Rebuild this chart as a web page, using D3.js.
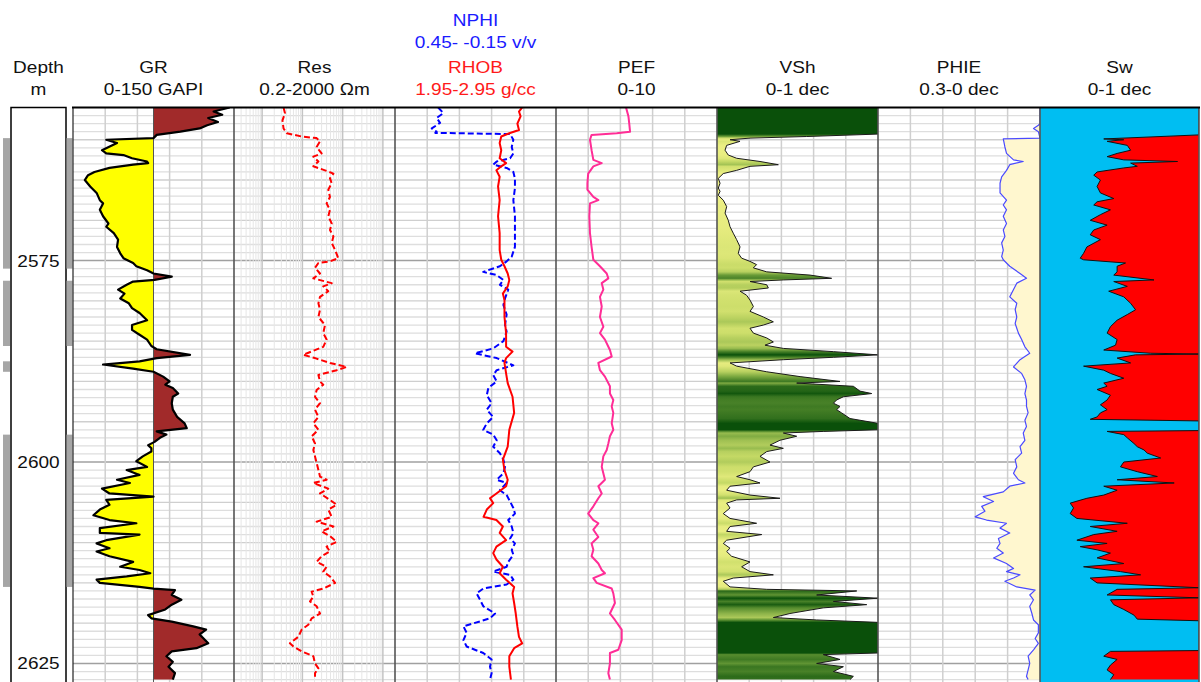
<!DOCTYPE html>
<html>
<head>
<meta charset="utf-8">
<script src="https://cdn.jsdelivr.net/npm/d3@7"></script>
<style>
  body { margin: 0; background: #fff; }
  text { font-family: "Liberation Sans", Arial, sans-serif; }
</style>
</head>
<body>
<svg id="chart" width="1201" height="682"></svg>
<script>
// well log panel: GR, Res, NPHI/RHOB, PEF, VSh, PHIE, Sw

// curve samples as [depth m, value]
const grLog = [[2556.0,146],[2556.5,131],[2556.9,139],[2557.3,126],[2557.8,135],[2558.2,125],[2558.6,118],[2559.0,100],[2559.4,78],[2559.8,75],[2560.0,31],[2560.4,41],[2561.3,27],[2561.7,31],[2561.9,47],[2562.3,55],[2562.7,69],[2562.9,70],[2563.1,56],[2563.5,34],[2564.0,20],[2564.4,14],[2565.0,11],[2565.8,16],[2566.6,22],[2567.5,25],[2567.9,28],[2568.7,25],[2569.5,28],[2570.4,33],[2570.8,31],[2571.6,38],[2572.4,42],[2573.3,41],[2574.1,44],[2574.7,47],[2575.3,56],[2575.7,59],[2576.2,69],[2576.6,75],[2577.0,92],[2577.4,76],[2577.6,56],[2578.0,50],[2578.6,42],[2579.1,48],[2579.7,44],[2580.3,52],[2580.9,55],[2581.5,62],[2582.4,69],[2583.0,55],[2583.6,55],[2584.2,62],[2584.8,69],[2585.6,73],[2586.0,78],[2586.7,109],[2587.1,78],[2587.5,62],[2587.9,28],[2588.4,56],[2588.8,75],[2589.4,84],[2590.0,90],[2590.4,86],[2590.8,93],[2591.5,98],[2591.9,93],[2592.7,92],[2593.5,93],[2594.4,97],[2595.2,104],[2595.8,106],[2596.2,78],[2596.6,87],[2597.0,81],[2597.5,76],[2597.9,70],[2598.3,73],[2598.7,73],[2599.3,65],[2599.9,59],[2600.6,69],[2601.0,50],[2601.6,62],[2602.2,41],[2602.6,53],[2603.3,27],[2603.9,34],[2604.3,75],[2604.7,31],[2605.3,34],[2605.9,25],[2606.6,19],[2607.2,34],[2607.6,59],[2608.2,25],[2608.8,25],[2609.0,62],[2609.7,31],[2610.1,22],[2610.7,34],[2611.1,22],[2611.7,34],[2612.4,56],[2613.0,44],[2613.4,62],[2613.8,72],[2614.2,50],[2614.6,22],[2615.0,25],[2615.5,62],[2615.7,75],[2615.9,95],[2616.5,92],[2617.1,101],[2617.7,92],[2618.3,86],[2619.0,70],[2619.4,73],[2619.8,92],[2620.4,112],[2620.8,124],[2621.4,118],[2622.5,126],[2623.1,115],[2623.5,92],[2624.1,87],[2624.8,93],[2625.4,89],[2626.2,95],[2627.0,93]];

const resLog = [[2556.0,3.4],[2556.7,3.7],[2557.6,3.2],[2558.6,3.4],[2559.2,4.1],[2559.6,9.6],[2559.8,22.6],[2560.2,27.4],[2560.9,22.6],[2561.7,30],[2562.1,18.7],[2562.7,25],[2563.3,18.7],[2563.8,36.5],[2564.2,59],[2564.8,48.5],[2565.4,53.5],[2566.2,44],[2567.1,48.5],[2567.9,40],[2568.7,48.5],[2569.5,44],[2570.4,53.5],[2571.2,48.5],[2572.0,59],[2572.8,53.5],[2573.7,65],[2574.7,78],[2575.1,48.5],[2575.3,25],[2575.9,20.6],[2576.6,27.4],[2577.2,18.7],[2577.8,53.5],[2578.2,33],[2578.8,44],[2579.5,27.4],[2580.3,25],[2581.1,27.4],[2582.0,25],[2583.0,36.5],[2584.0,33],[2584.8,40],[2585.7,33],[2586.7,10.5],[2587.1,20.6],[2587.7,48.5],[2588.2,126],[2588.6,71],[2589.2,25],[2590.0,27.4],[2590.4,33],[2591.05,22.6],[2591.9,20.6],[2592.7,27.4],[2593.5,20.6],[2594.4,25],[2595.2,18.7],[2596.0,25],[2596.8,17],[2597.7,20.6],[2598.5,18.7],[2599.3,20.6],[2600.1,22.6],[2601.0,25],[2601.8,27.4],[2602.2,40],[2602.6,18.7],[2603.3,44],[2603.9,27.4],[2604.7,48.5],[2605.3,71],[2605.9,44],[2606.8,53.5],[2607.4,22.6],[2608.0,59],[2608.6,30],[2609.2,48.5],[2609.9,71],[2610.5,40],[2611.1,48.5],[2611.7,30],[2612.4,22.6],[2613.0,40],[2613.6,33],[2614.2,48.5],[2615.0,65],[2615.7,33],[2616.1,17],[2616.7,18.7],[2617.3,15.5],[2617.9,22.6],[2618.8,27.4],[2619.4,17],[2620.2,14],[2620.8,9.6],[2621.7,7.9],[2622.5,4.9],[2622.9,6],[2623.5,9.6],[2624.1,18.7],[2625.0,20.6],[2625.6,25],[2626.2,20.6],[2627.0,20.6]];

const nphiLog = [[2556.0,0.289],[2556.7,0.27],[2557.3,0.295],[2557.9,0.282],[2558.6,0.313],[2559.0,0.295],[2559.15,0.30],[2559.3,0.021],[2560.0,0.009],[2560.9,0.015],[2561.7,0.009],[2562.3,0.021],[2562.7,0.071],[2563.1,0.084],[2563.5,0.034],[2564.0,0.009],[2564.8,0.003],[2566.0,0.003],[2567.5,0.009],[2569.5,0.003],[2571.6,0.003],[2573.3,0.003],[2574.5,0.015],[2575.1,0.034],[2575.7,0.059],[2576.4,0.121],[2576.8,0.071],[2577.4,0.046],[2578.0,0.059],[2578.6,0.028],[2579.7,0.04],[2580.5,0.046],[2581.7,0.034],[2583.0,0.04],[2583.8,0.034],[2585.0,0.046],[2585.9,0.084],[2586.5,0.152],[2587.1,0.071],[2588.0,0.009],[2588.6,0.071],[2589.2,0.084],[2590.0,0.071],[2590.8,0.102],[2591.7,0.108],[2592.7,0.09],[2593.5,0.108],[2594.4,0.084],[2595.2,0.108],[2596.0,0.121],[2596.6,0.084],[2597.3,0.071],[2598.1,0.084],[2598.9,0.059],[2599.7,0.046],[2600.6,0.04],[2601.4,0.046],[2602.2,0.071],[2602.6,0.034],[2603.5,0.059],[2604.1,0.034],[2604.9,0.021],[2605.7,0.009],[2606.4,0.003],[2607.2,0.028],[2608.0,0.015],[2608.8,0.009],[2609.5,0.021],[2610.1,0.003],[2610.9,0.015],[2611.5,0.009],[2612.4,0.028],[2613.0,0.034],[2613.6,0.084],[2614.0,0.021],[2614.6,0.009],[2615.2,0.034],[2615.7,0.121],[2616.3,0.146],[2617.1,0.133],[2617.9,0.121],[2618.8,0.077],[2619.4,0.096],[2620.4,0.195],[2621.2,0.183],[2622.1,0.195],[2622.9,0.183],[2623.7,0.121],[2624.5,0.09],[2625.4,0.096],[2626.2,0.09],[2627.0,0.096]];

const rhobLog = [[2556.0,2.74],[2556.5,2.72],[2557.1,2.73],[2558.0,2.71],[2558.8,2.72],[2559.2,2.66],[2559.6,2.61],[2560.4,2.60],[2561.3,2.61],[2562.3,2.60],[2562.9,2.64],[2563.3,2.61],[2563.8,2.58],[2564.6,2.60],[2565.8,2.59],[2567.5,2.60],[2569.5,2.59],[2571.6,2.60],[2573.7,2.60],[2574.9,2.61],[2575.7,2.63],[2576.6,2.65],[2577.4,2.66],[2578.2,2.65],[2579.1,2.62],[2579.9,2.63],[2582.0,2.63],[2584.0,2.64],[2585.7,2.64],[2586.3,2.68],[2587.1,2.64],[2587.7,2.63],[2589.0,2.64],[2590.2,2.65],[2591.9,2.68],[2593.9,2.69],[2596.0,2.66],[2598.1,2.65],[2599.7,2.62],[2601.0,2.63],[2602.2,2.65],[2603.0,2.64],[2603.9,2.58],[2604.5,2.54],[2605.1,2.56],[2605.9,2.52],[2606.8,2.50],[2607.2,2.58],[2608.0,2.62],[2608.8,2.60],[2609.7,2.64],[2610.5,2.58],[2611.3,2.56],[2612.1,2.58],[2613.0,2.62],[2613.8,2.60],[2614.6,2.64],[2615.5,2.69],[2616.3,2.68],[2617.5,2.69],[2618.8,2.70],[2620.4,2.71],[2621.7,2.72],[2622.5,2.74],[2623.1,2.69],[2624.1,2.66],[2625.4,2.66],[2627.0,2.67]];

const pefLog = [[2556.0,4.35],[2557.1,4.5],[2558.0,4.55],[2559.0,4.6],[2559.2,3.77],[2559.4,2.21],[2560.0,2.11],[2561.3,2.21],[2562.5,2.32],[2562.9,2.84],[2563.3,2.32],[2564.2,2.0],[2565.4,1.95],[2566.2,1.95],[2567.1,2.32],[2567.5,2.63],[2567.9,2.11],[2569.5,2.07],[2571.6,2.11],[2573.3,2.21],[2574.9,2.32],[2575.7,2.73],[2576.6,3.15],[2577.2,3.25],[2577.8,2.84],[2578.6,2.94],[2579.5,2.73],[2580.7,2.84],[2582.0,2.73],[2583.2,2.94],[2584.0,2.73],[2584.8,3.04],[2586.1,3.35],[2586.9,3.46],[2587.7,2.63],[2588.6,2.73],[2589.4,3.04],[2590.6,3.35],[2591.5,3.35],[2592.3,3.56],[2593.1,3.46],[2593.9,3.56],[2595.2,3.46],[2596.0,3.56],[2596.8,3.35],[2597.7,3.25],[2598.5,3.15],[2599.3,2.94],[2600.6,2.84],[2601.4,2.94],[2602.2,3.04],[2603.0,2.63],[2603.9,2.84],[2604.5,2.63],[2605.5,2.32],[2606.4,2.0],[2607.2,2.32],[2607.6,2.63],[2608.4,2.32],[2609.3,2.63],[2610.1,2.21],[2610.9,2.32],[2611.7,2.21],[2612.6,2.63],[2613.4,2.84],[2613.8,3.04],[2614.4,2.32],[2615.0,2.53],[2615.7,3.46],[2616.3,3.56],[2617.5,3.66],[2618.8,3.35],[2619.6,3.66],[2620.8,4.08],[2622.1,4.08],[2623.3,3.87],[2623.7,3.35],[2625.0,3.35],[2626.2,3.25],[2627.0,3.35]];

const vshLog = [[2556.0,1],[2559.3,1],[2559.6,0.557],[2559.8,0.205],[2560.0,0.081],[2560.2,0.143],[2560.7,0.06],[2561.3,0.05],[2561.9,0.07],[2562.3,0.122],[2562.7,0.267],[2563.1,0.381],[2563.3,0.205],[2563.8,0.122],[2564.2,0.039],[2564.8,0.008],[2565.4,0.019],[2566.0,0.008],[2566.4,0.019],[2566.9,0.008],[2567.5,0.039],[2568.3,0.06],[2569.1,0.05],[2570.0,0.07],[2570.8,0.081],[2571.6,0.101],[2572.4,0.122],[2573.3,0.143],[2574.1,0.132],[2574.7,0.153],[2575.1,0.205],[2575.5,0.246],[2575.9,0.226],[2576.4,0.309],[2576.8,0.578],[2577.2,0.712],[2577.4,0.412],[2577.6,0.205],[2578.0,0.309],[2578.4,0.319],[2578.8,0.143],[2579.3,0.184],[2579.9,0.205],[2580.7,0.226],[2581.3,0.205],[2582.0,0.288],[2582.6,0.35],[2583.0,0.288],[2583.4,0.205],[2584.0,0.226],[2584.6,0.309],[2585.1,0.35],[2585.5,0.298],[2585.9,0.412],[2586.3,0.723],[2586.7,1.0],[2587.0,0.723],[2587.3,0.412],[2587.7,0.081],[2588.1,0.122],[2588.8,0.309],[2589.4,0.516],[2590.0,0.764],[2590.2,0.495],[2590.6,0.847],[2591.2,0.888],[2591.5,0.961],[2591.9,0.785],[2592.3,0.743],[2592.7,0.723],[2593.1,0.764],[2593.5,0.743],[2593.9,0.774],[2594.6,0.826],[2595.2,1.0],[2596.0,1.0],[2596.2,0.66],[2596.4,0.412],[2596.8,0.495],[2597.3,0.391],[2597.9,0.329],[2598.3,0.412],[2598.7,0.309],[2599.3,0.267],[2600.0,0.329],[2600.6,0.226],[2601.2,0.205],[2601.8,0.122],[2602.2,0.205],[2602.6,0.267],[2603.0,0.081],[2603.5,0.06],[2604.1,0.205],[2604.5,0.391],[2604.7,0.122],[2605.1,0.06],[2605.7,0.081],[2606.4,0.039],[2607.0,0.081],[2607.6,0.246],[2608.0,0.081],[2608.6,0.06],[2609.0,0.278],[2609.7,0.06],[2610.1,0.039],[2610.7,0.081],[2611.1,0.06],[2611.7,0.091],[2612.4,0.205],[2613.0,0.153],[2613.6,0.205],[2614.0,0.35],[2614.4,0.101],[2614.8,0.039],[2615.5,0.081],[2615.8,0.309],[2616.0,0.868],[2616.5,0.619],[2616.9,1.0],[2617.3,0.723],[2617.7,0.93],[2618.1,0.66],[2618.8,0.453],[2619.3,0.35],[2619.6,0.619],[2619.9,1.0],[2623.7,1.0],[2623.9,0.66],[2624.5,0.764],[2625.0,0.619],[2625.4,0.785],[2626.0,0.723],[2626.6,0.847],[2627.0,0.826]];

const phieLog = [[2556.0,0],[2558.0,0],[2558.2,0.003],[2558.6,0.012],[2559.0,0.003],[2559.8,0],[2559.9,0.068],[2560.9,0.065],[2561.7,0.062],[2562.5,0.049],[2562.7,0.031],[2563.1,0.056],[2563.8,0.062],[2564.6,0.071],[2565.4,0.074],[2566.6,0.074],[2567.5,0.062],[2568.1,0.068],[2568.7,0.062],[2569.5,0.068],[2570.4,0.062],[2571.2,0.068],[2572.0,0.065],[2572.8,0.071],[2573.7,0.068],[2574.5,0.071],[2574.9,0.068],[2575.7,0.056],[2576.6,0.037],[2577.2,0.025],[2577.8,0.043],[2578.6,0.049],[2579.5,0.056],[2580.3,0.043],[2581.1,0.046],[2582.0,0.043],[2582.8,0.046],[2584.0,0.04],[2584.8,0.034],[2585.7,0.028],[2586.5,0.019],[2587.3,0.037],[2588.2,0.049],[2589.0,0.034],[2589.8,0.028],[2590.6,0.025],[2591.5,0.028],[2592.3,0.025],[2593.1,0.025],[2593.9,0.022],[2594.8,0.028],[2595.6,0.025],[2596.4,0.031],[2597.3,0.028],[2598.1,0.037],[2598.9,0.034],[2599.7,0.046],[2600.6,0.043],[2601.4,0.049],[2602.2,0.04],[2602.6,0.028],[2603.0,0.056],[2603.7,0.068],[2604.3,0.105],[2604.9,0.086],[2605.5,0.108],[2606.1,0.102],[2606.8,0.12],[2607.2,0.099],[2607.6,0.062],[2608.2,0.074],[2608.8,0.056],[2609.5,0.077],[2610.1,0.074],[2610.7,0.08],[2611.3,0.068],[2611.9,0.086],[2612.6,0.062],[2613.2,0.049],[2613.6,0.062],[2614.0,0.037],[2614.4,0.049],[2614.8,0.065],[2615.5,0.043],[2615.9,0.009],[2616.5,0.019],[2617.1,0.012],[2617.9,0.019],[2618.8,0.015],[2619.6,0.012],[2620.2,0.003],[2621.2,0.003],[2621.9,0.009],[2622.5,0.003],[2623.3,0.012],[2624.1,0.022],[2625.0,0.019],[2625.8,0.022],[2626.6,0.025],[2627.0,0.022]];

const swLog = [[2556.0,1],[2559.4,1],[2559.9,0.401],[2560.0,0.527],[2560.2,0.422],[2560.7,0.549],[2561.3,0.57],[2561.7,0.485],[2562.1,0.422],[2562.5,0.527],[2562.7,0.865],[2562.9,0.57],[2563.3,0.612],[2563.5,0.527],[2564.0,0.359],[2564.4,0.338],[2565.0,0.38],[2565.8,0.359],[2566.6,0.38],[2567.3,0.464],[2567.7,0.359],[2568.1,0.338],[2568.7,0.443],[2569.3,0.38],[2570.0,0.316],[2570.6,0.422],[2571.2,0.338],[2571.8,0.316],[2572.4,0.38],[2573.3,0.295],[2574.1,0.274],[2574.7,0.253],[2574.9,0.274],[2575.3,0.538],[2575.7,0.485],[2576.4,0.485],[2576.8,0.464],[2577.4,0.717],[2577.6,0.464],[2578.2,0.549],[2578.8,0.432],[2579.5,0.527],[2580.3,0.57],[2581.1,0.601],[2581.7,0.549],[2582.4,0.485],[2583.2,0.443],[2584.0,0.422],[2584.8,0.485],[2585.5,0.475],[2586.1,0.401],[2586.5,0.696],[2586.6,1.0],[2586.7,0.6],[2587.1,0.485],[2587.7,0.57],[2588.1,0.274],[2588.6,0.401],[2589.0,0.443],[2589.6,0.527],[2590.2,0.401],[2590.6,0.422],[2591.0,0.359],[2591.7,0.443],[2592.3,0.422],[2592.9,0.38],[2593.5,0.422],[2593.9,0.38],[2594.4,0.359],[2594.7,0.316],[2594.9,1.0],[2596.1,1.0],[2596.2,0.422],[2596.6,0.527],[2597.0,0.549],[2597.7,0.591],[2598.1,0.612],[2598.5,0.654],[2598.9,0.675],[2599.5,0.759],[2600.0,0.527],[2600.6,0.506],[2601.2,0.612],[2601.8,0.738],[2602.2,0.485],[2602.6,0.844],[2603.0,0.401],[2603.5,0.485],[2604.1,0.401],[2604.5,0.295],[2605.1,0.19],[2605.7,0.211],[2606.4,0.19],[2607.0,0.232],[2607.6,0.549],[2608.0,0.316],[2608.6,0.485],[2609.0,0.338],[2609.7,0.232],[2610.1,0.422],[2610.5,0.253],[2610.9,0.359],[2611.3,0.443],[2611.9,0.359],[2612.6,0.527],[2613.0,0.274],[2613.6,0.506],[2614.0,0.633],[2614.4,0.316],[2615.0,0.359],[2615.6,1.0],[2615.8,0.485],[2616.5,0.422],[2616.85,1.0],[2617.1,0.443],[2617.7,0.464],[2618.3,0.527],[2619.0,0.591],[2619.5,0.612],[2619.7,1.0],[2623.4,1.0],[2623.5,0.443],[2624.1,0.401],[2624.5,0.485],[2625.2,0.443],[2625.8,0.422],[2626.4,0.464],[2627.0,0.443]];

// gray interval markers beside the depth column
const zoneTop  = [2559.8, 2577.5, 2587.5, 2596.6];
const zoneBase = [2576.0, 2585.6, 2588.8, 2615.5];
const zoneBothSides = [true, true, false, true];

const depthLabels = [2575, 2600, 2625];
const trackTitles = ["GR", "Res", "NPHI", "PEF", "VSh", "PHIE", "Sw"];
const trackRanges = ["0-150 GAPI", "0.2-2000 \u03A9m", "0.45- -0.15 v/v", "0-10", "0-1 dec", "0.3-0 dec", "0-1 dec"];

const svg = d3.select("#chart");
const TOP = 107.5, BOTTOM = 682;

const y = d3.scaleLinear().domain([2556, 2627.3]).range([TOP, BOTTOM]);

// track edges (pixels)
const edges = [73, 234, 395, 556, 717, 878, 1040, 1199];
const tracks = d3.range(7).map(i => ({ x0: edges[i], x1: edges[i + 1] }));

const xGR   = d3.scaleLinear().domain([0, 150]).range([73, 234]);
const xRes  = d3.scaleLog().domain([0.2, 2000]).range([234, 395]);
const xNphi = d3.scaleLinear().domain([0.45, -0.15]).range([395, 556]);
const xRhob = d3.scaleLinear().domain([1.95, 2.95]).range([395, 556]);
const xPef  = d3.scaleLinear().domain([0, 10]).range([556, 717]);
const xVsh  = d3.scaleLinear().domain([0, 1]).range([717, 878]);
const xPhie = d3.scaleLinear().domain([0.3, 0]).range([878, 1040]);
const xSw   = d3.scaleLinear().domain([0, 1]).range([1040, 1199]);

const defs = svg.append("defs");
tracks.forEach((t, i) => {
    defs.append("clipPath").attr("id", "clip" + i)
        .append("rect").attr("x", t.x0).attr("y", TOP).attr("width", t.x1 - t.x0).attr("height", BOTTOM - TOP);
});

// depth column
svg.append("rect").attr("x", 11).attr("y", TOP).attr("width", 55).attr("height", BOTTOM - TOP + 10)
    .attr("fill", "#fff").attr("stroke", "#000").attr("stroke-width", 1.5);

zoneTop.forEach((top, i) => {
    svg.append("rect").attr("x", 3).attr("y", y(top)).attr("width", 7)
        .attr("height", y(zoneBase[i]) - y(top)).attr("fill", "#a6a6a6");
    if (zoneBothSides[i]) {
        svg.append("rect").attr("x", 66.5).attr("y", y(top)).attr("width", 6)
            .attr("height", y(zoneBase[i]) - y(top)).attr("fill", "#a6a6a6");
    }
});

svg.selectAll(".depthlbl").data(depthLabels).enter().append("text")
    .attr("class", "depthlbl")
    .attr("transform", d => `translate(38.5,${y(d) + 6}) scale(1.12,1)`)
    .attr("text-anchor", "middle").attr("font-size", 17).attr("fill", "#111")
    .text(d => d);

// horizontal grid
const grid = svg.append("g");
d3.range(2557, 2628, 1).forEach(d => {
    const major = d % 25 === 0;
    grid.append("line").attr("x1", 73).attr("x2", 1199).attr("y1", y(d)).attr("y2", y(d))
        .attr("stroke", major ? "#a0a0a0" : (d % 5 === 0 ? "#cfcfcf" : "#dedede"))
        .attr("stroke-width", major ? 1.5 : 1.3);
});

// vertical grid, linear tracks: five divisions
[0, 2, 3, 4, 5].forEach(i => {
    const t = tracks[i];
    d3.range(1, 5).forEach(k => {
        const xv = t.x0 + k * (t.x1 - t.x0) / 5;
        grid.append("line").attr("x1", xv).attr("x2", xv).attr("y1", TOP).attr("y2", BOTTOM)
            .attr("stroke", "#cfcfcf").attr("stroke-width", 1.5);
    });
});
// log grid for Res
[0.2, 2, 20, 200].forEach(dec => {
    d3.range(1, 10).forEach(m => {
        const v = dec / 2 * m;
        if (v <= 0.2 || v >= 2000) return;
        const decade = Math.abs(Math.log10(v) - Math.round(Math.log10(v))) < 1e-9;
        grid.append("line").attr("x1", xRes(v)).attr("x2", xRes(v)).attr("y1", TOP).attr("y2", BOTTOM)
            .attr("stroke", decade ? "#c4c4c4" : "#e6e6e6").attr("stroke-width", decade ? 1.5 : 1);
    });
});
grid.append("line").attr("x1", xRes(2000 / 1)).attr("x2", xRes(2000)).attr("y1", TOP).attr("y2", BOTTOM);
[1000].forEach(v => grid.append("line").attr("x1", xRes(v)).attr("x2", xRes(v)).attr("y1", TOP).attr("y2", BOTTOM)
    .attr("stroke", "#c4c4c4").attr("stroke-width", 1.5));

// GR fill: yellow below cutoff, brown above
const grCut = xGR(75);
const grArea = d3.area().y(d => y(d[0])).x0(grCut).x1(d => xGR(d[1]));
defs.append("clipPath").attr("id", "grLeft").append("rect")
    .attr("x", 73).attr("y", TOP).attr("width", grCut - 73).attr("height", BOTTOM - TOP);
defs.append("clipPath").attr("id", "grRight").append("rect")
    .attr("x", grCut).attr("y", TOP).attr("width", 234 - grCut).attr("height", BOTTOM - TOP);
svg.append("path").datum(grLog).attr("d", grArea).attr("fill", "#ffff00").attr("clip-path", "url(#grLeft)");
svg.append("path").datum(grLog).attr("d", grArea).attr("fill", "#a12a2a").attr("clip-path", "url(#grRight)");
svg.append("line").attr("x1", grCut).attr("x2", grCut).attr("y1", TOP).attr("y2", BOTTOM)
    .attr("stroke", "#555").attr("stroke-width", 1);

// VSh fill with colour by value
const vshColor = d3.scaleLinear().domain([0, 0.25, 0.55, 1])
    .range(["#f4f48a", "#c9dc68", "#6fa03a", "#0a500a"]);
const grad = defs.append("linearGradient").attr("id", "vshGrad")
    .attr("gradientUnits", "userSpaceOnUse")
    .attr("x1", 0).attr("x2", 0).attr("y1", TOP).attr("y2", BOTTOM);
grad.selectAll("stop").data(vshLog).enter().append("stop")
    .attr("offset", d => (y(d[0]) - TOP) / (BOTTOM - TOP))
    .attr("stop-color", d => vshColor(d[1]));
svg.append("path").datum(vshLog)
    .attr("d", d3.area().y(d => y(d[0])).x0(xVsh(0)).x1(d => xVsh(d[1])))
    .attr("fill", "url(#vshGrad)").attr("clip-path", "url(#clip4)");

// PHIE fill to the right edge
svg.append("path").datum(phieLog)
    .attr("d", d3.area().y(d => y(d[0])).x0(d => xPhie(d[1])).x1(xPhie(0)))
    .attr("fill", "#fff7cf").attr("clip-path", "url(#clip5)");

// Sw: water background, hydrocarbon to the right of the curve
svg.append("rect").attr("x", xSw(0)).attr("y", TOP).attr("width", xSw(1) - xSw(0)).attr("height", BOTTOM - TOP)
    .attr("fill", "#00bef2");
svg.append("path").datum(swLog)
    .attr("d", d3.area().y(d => y(d[0])).x0(d => xSw(d[1])).x1(xSw(1)))
    .attr("fill", "#ff0000").attr("clip-path", "url(#clip6)");

// curves
const curve = (data, xs, clip, color, width, dash) => {
    svg.append("path").datum(data)
        .attr("d", d3.line().x(d => xs(d[1])).y(d => y(d[0])))
        .attr("fill", "none").attr("stroke", color).attr("stroke-width", width)
        .attr("stroke-dasharray", dash || null)
        .attr("stroke-linejoin", "round")
        .attr("clip-path", `url(#clip${clip})`);
};
curve(grLog, xGR, 0, "#000", 2.2);
curve(resLog, xRes, 1, "#ff0000", 2, "6,3");
curve(nphiLog, xNphi, 2, "#0000ff", 2, "6,3");
curve(rhobLog, xRhob, 2, "#ff0000", 2);
curve(pefLog, xPef, 3, "#ff2d96", 2);
curve(vshLog, xVsh, 4, "#1a1a1a", 1);
curve(phieLog, xPhie, 5, "#4a4aff", 1.2);
curve(swLog, xSw, 6, "#111", 1);

// track borders
edges.forEach((xv, i) => {
    svg.append("line").attr("x1", xv).attr("x2", xv).attr("y1", TOP).attr("y2", BOTTOM)
        .attr("stroke", i === 0 ? "#222" : "#555").attr("stroke-width", i === 0 ? 1.2 : 1.6);
});
svg.append("line").attr("x1", 72).attr("x2", 1200).attr("y1", TOP).attr("y2", TOP)
    .attr("stroke", "#000").attr("stroke-width", 2);

// headers
const label = (x, yb, str, color) => svg.append("text")
    .attr("transform", `translate(${x},${yb}) scale(1.12,1)`)
    .attr("text-anchor", "middle").attr("font-size", 17).attr("fill", color).text(str);

label(38.5, 73, "Depth", "#111");
label(38.5, 95, "m", "#111");
tracks.forEach((t, i) => {
    const cx = (t.x0 + t.x1) / 2;
    if (i === 2) {
        label(cx, 26, trackTitles[i], "#1a1aff");
        label(cx, 48, trackRanges[i], "#1a1aff");
        label(cx, 73, "RHOB", "#ff1a1a");
        label(cx, 95, "1.95-2.95 g/cc", "#ff1a1a");
    } else {
        label(cx, 73, trackTitles[i], "#111");
        label(cx, 95, trackRanges[i], "#111");
    }
});
</script>
</body>
</html>
